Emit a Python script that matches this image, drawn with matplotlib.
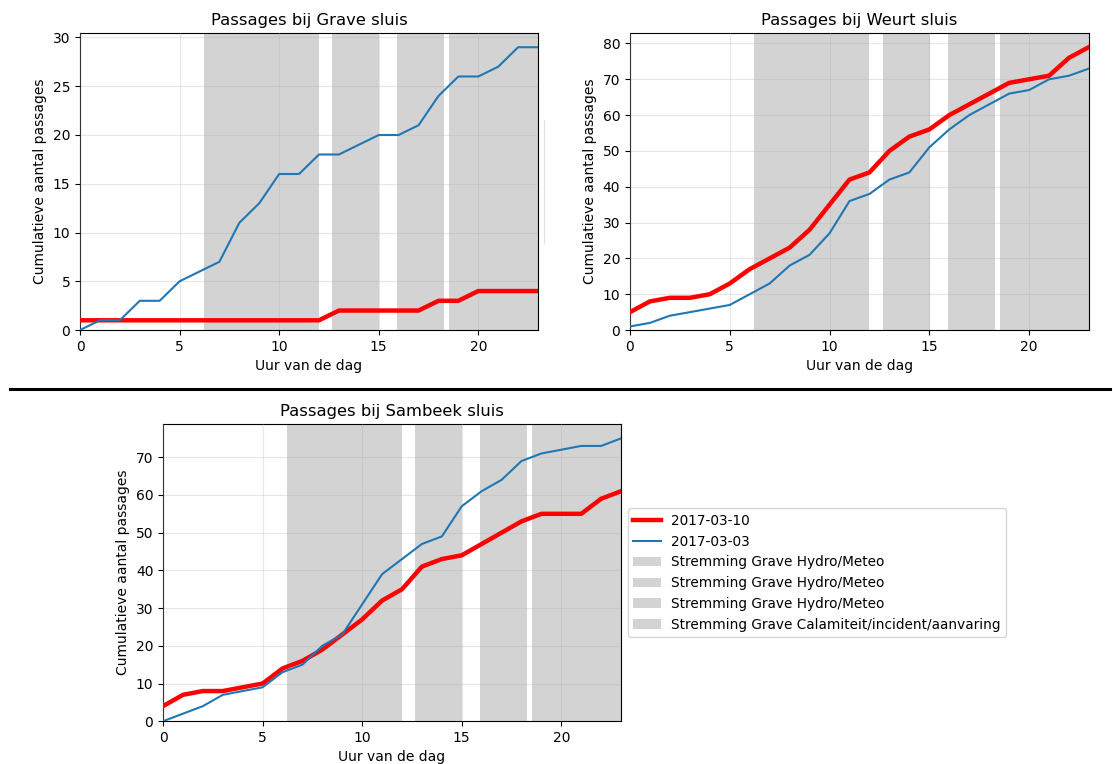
import matplotlib
matplotlib.use('Agg')
import matplotlib.pyplot as plt
from matplotlib.lines import Line2D

plt.rcParams.update({'font.size': 10})

# Hours of the day
uren = list(range(24))

# Cumulative passages per lock (2017-03-10 = red, 2017-03-03 = blue)
grave_0310 = [1, 1, 1, 1, 1, 1, 1, 1, 1, 1, 1, 1, 1, 2, 2, 2, 2, 2, 3, 3, 4, 4, 4, 4]
grave_0303 = [0, 1, 1, 3, 3, 5, 6, 7, 11, 13, 16, 16, 18, 18, 19, 20, 20, 21, 24, 26, 26, 27, 29, 29]

weurt_0310 = [5, 8, 9, 9, 10, 13, 17, 20, 23, 28, 35, 42, 44, 50, 54, 56, 60, 63, 66, 69, 70, 71, 76, 79]
weurt_0303 = [1, 2, 4, 5, 6, 7, 10, 13, 18, 21, 27, 36, 38, 42, 44, 51, 56, 60, 63, 66, 67, 70, 71, 73]

sambeek_0310 = [4, 7, 8, 8, 9, 10, 14, 16, 19, 23, 27, 32, 35, 41, 43, 44, 47, 50, 53, 55, 55, 55, 59, 61]
sambeek_0303 = [0, 2, 4, 7, 8, 9, 13, 15, 20, 23, 31, 39, 43, 47, 49, 57, 61, 64, 69, 71, 72, 73, 73, 75]

# Stremmingen (start, end in hours) with their labels
stremming_start = [6.23, 12.66, 15.93, 18.54]
stremming_eind = [12.0, 15.02, 18.29, 23.5]
stremming_labels = ['Stremming Grave Hydro/Meteo',
                    'Stremming Grave Hydro/Meteo',
                    'Stremming Grave Hydro/Meteo',
                    'Stremming Grave Calamiteit/incident/aanvaring']

datum_labels = ['2017-03-10', '2017-03-03']

fig = plt.figure(figsize=(11.13, 7.64), dpi=100)
fig.patch.set_facecolor('white')


def plot_sluis(ax, titel, rood, blauw):
    ax.plot(uren, rood, color='red', lw=3.2, label=datum_labels[0], zorder=3)
    ax.plot(uren, blauw, color='tab:blue', lw=1.5, label=datum_labels[1], zorder=3)
    for s, e, lab in zip(stremming_start, stremming_eind, stremming_labels):
        ax.axvspan(s, e, color='lightgrey', label=lab, zorder=1, lw=0)
    ax.set_xlim(0, 23)
    ax.set_ylim(bottom=0)
    ax.grid(alpha=0.3, zorder=2)
    ax.set_axisbelow(False)
    ax.set_title(titel, fontsize=11.8)
    ax.set_xlabel('Uur van de dag')
    ax.set_ylabel('Cumulatieve aantal passages')


ax1 = fig.add_axes([0.0719, 0.568, 0.4115, 0.3887])
plot_sluis(ax1, 'Passages bij Grave sluis', grave_0310, grave_0303)

ax2 = fig.add_axes([0.566, 0.568, 0.4124, 0.3887])
plot_sluis(ax2, 'Passages bij Weurt sluis', weurt_0310, weurt_0303)

ax3 = fig.add_axes([0.1465, 0.0560, 0.4115, 0.3887])
plot_sluis(ax3, 'Passages bij Sambeek sluis', sambeek_0310, sambeek_0303)
ax3.legend(loc='center left', bbox_to_anchor=(1.0, 0.5), fontsize=9.8)

# Separator line between top row and bottom plot
fig.add_artist(Line2D([0.009, 0.997], [0.491, 0.491], color='black', lw=2.2))
# faint leftover edge next to the first plot
fig.add_artist(Line2D([0.489, 0.489], [0.682, 0.843], color='#e0e0e0', lw=0.8))

plt.savefig('out.png', dpi=100)
plt.close(fig)
